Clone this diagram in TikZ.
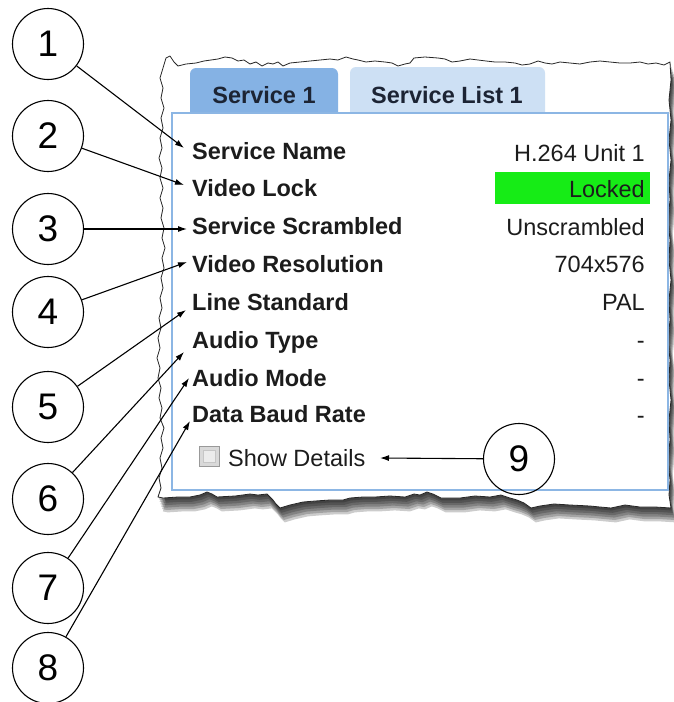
\documentclass[tikz,border=0pt]{standalone}
\usepackage{fontspec}
\setmainfont{Liberation Sans}
\usetikzlibrary{arrows.meta}
\definecolor{tabA}{RGB}{133,178,228}
\definecolor{tabB}{RGB}{205,224,244}
\definecolor{panelb}{RGB}{140,182,228}
\definecolor{lockg}{RGB}{22,236,22}
\definecolor{txt}{RGB}{28,28,28}
\definecolor{tabtxt}{RGB}{28,36,52}
\begin{document}
\begin{tikzpicture}[x=1pt,y=-1pt,
  callout/.style={circle, draw, line width=1.1pt, minimum size=71pt, inner sep=0pt, font=\fontsize{37}{40}\selectfont},
  lbl/.style={anchor=base west, inner sep=0pt, font=\fontsize{23.5}{28}\selectfont\bfseries, text=txt},
  val/.style={anchor=base east, inner sep=0pt, font=\fontsize{23.5}{28}\selectfont, text=txt},
  tabtext/.style={inner sep=0pt, font=\fontsize{23.5}{28}\selectfont\bfseries, text=tabtxt},
  pointer/.style={-{Latex[length=9pt,width=6pt]}, line width=1.1pt},
]
\useasboundingbox (0,0) rectangle (674,702);
\clip (0,0) rectangle (674,702);
\fill[white] (0,0) rectangle (674,702);

\def\paperpath{(158,497) -- (161,488) -- (159,478) -- (162,468) -- (160,458) -- (163,448) -- (161,438) -- (164,428) -- (160,418) -- (162,408) -- (159,398) -- (161,388) -- (158,378) -- (160,368) -- (157,358) -- (160,348) -- (158,338) -- (161,328) -- (159,318) -- (162,308) -- (160,298) -- (163,288) -- (161,278) -- (164,268) -- (162,258) -- (165,248) -- (162,238) -- (164,228) -- (161,218) -- (163,208) -- (160,198) -- (163,188) -- (160,178) -- (162,168) -- (159,158) -- (162,148) -- (160,138) -- (163,128) -- (161,118) -- (164,108) -- (161,98) -- (163,88) -- (160,78) -- (163,68)
 -- (166,58) -- (170,56) -- (174,62) -- (178,66) -- (186,64) -- (196,63) -- (204,61) -- (211,60) -- (218,59) -- (225,57) -- (232,58) -- (238,61) -- (244,60) -- (250,64) -- (256,62) -- (262,66) -- (268,63) -- (273,64) -- (278,62) -- (283,66) -- (290,63) -- (300,62) -- (310,61) -- (320,60) -- (330,59) -- (338,60) -- (346,57) -- (353,59) -- (358,60) -- (366,62) -- (375,61) -- (385,62) -- (392,63) -- (398,66) -- (405,64) -- (410,63) -- (414,58) -- (425,57) -- (438,58) -- (445,59) -- (452,62) -- (460,61) -- (470,59) -- (478,60) -- (486,61) -- (495,62) -- (505,62) -- (515,63) -- (522,65) -- (530,64) -- (538,61) -- (545,63) -- (552,64) -- (560,62) -- (570,63) -- (580,64) -- (590,62) -- (600,61) -- (610,62) -- (620,63) -- (630,63) -- (640,62) -- (648,64) -- (656,63) -- (664,65) -- (670,62)
 -- (671,80) -- (669,100) -- (671,120) -- (669,140) -- (671,160) -- (669,180) -- (670,200) -- (668,220) -- (670,240) -- (669,260) -- (671,280) -- (669,300) -- (670,320) -- (668,340) -- (670,360) -- (669,380) -- (671,400) -- (669,420) -- (670,440) -- (668,460) -- (670,480) -- (669,495) -- (671,508)
 -- (655,507) -- (640,507) -- (625,505) -- (611,508) -- (600,507) -- (590,506) -- (570,505) -- (554,504) -- (540,506) -- (531,508) -- (524,503) -- (517,500) -- (510,498) -- (501,495) -- (490,497) -- (475,496) -- (460,498) -- (441,498) -- (433,494) -- (427,492) -- (420,495) -- (414,494) -- (405,497) -- (390,496) -- (375,497) -- (363,497) -- (350,498) -- (343,500) -- (330,500) -- (315,501) -- (303,502) -- (290,505) -- (280,508) -- (276,504) -- (273,500) -- (267,494) -- (258,495) -- (250,494) -- (235,496) -- (217,497) -- (212,494) -- (207,492) -- (200,495) -- (190,497) -- (178,497) -- (163,498) -- cycle}

% shadow
\foreach \k in {1,...,6}{
  \fill[black, opacity=0.2] [shift={(0.8*\k,2.4*\k)}] \paperpath;
}
% paper
\fill[white] \paperpath;
\draw[black!85, line width=0.8pt, line join=round] \paperpath;

% panel
\draw[panelb, line width=2pt] (172,113) rectangle (668,490);
\fill[tabA] (190,113) [rounded corners=6pt] -- (190,68) -- (338,68) [sharp corners] -- (338,113) -- cycle;
\fill[tabB] (350,113) [rounded corners=6pt] -- (350,67) -- (545,67) [sharp corners] -- (545,113) -- cycle;
\draw[panelb, line width=2pt] (172,113) -- (668,113);
\node[tabtext] (tab1) at (264,95) {Service 1};
\node[tabtext] (tab2) at (447,95) {Service List 1};

% green lock highlight
\fill[lockg] (495,172) rectangle (650,204);

% labels
\node[lbl] (l1) at (192,159) {Service Name};
\node[lbl] (l2) at (192,196) {Video Lock};
\node[lbl] (l3) at (192,234) {Service Scrambled};
\node[lbl] (l4) at (192,272) {Video Resolution};
\node[lbl] (l5) at (192,310) {Line Standard};
\node[lbl] (l6) at (192,348) {Audio Type};
\node[lbl] (l7) at (192,386) {Audio Mode};
\node[lbl] (l8) at (192,422) {Data Baud Rate};

% values
\node[val] (v1) at (645,161) {H.264 Unit 1};
\node[val] (v2) at (645,197) {Locked};
\node[val] (v3) at (645,235) {Unscrambled};
\node[val] (v4) at (645,272) {704x576};
\node[val] (v5) at (645,310) {PAL};
\node[val] (v6) at (645,348) {-};
\node[val] (v7) at (645,386) {-};
\node[val] (v8) at (645,423) {-};

% checkbox
\node[draw=gray!80, fill=gray!30, line width=1pt, minimum size=20pt, inner sep=0pt] (cb) at (209,456) {};
\node[draw=gray!45, fill=gray!15, line width=0.6pt, minimum size=12pt, inner sep=0pt] (cbi) at (cb) {};
\node[val, anchor=base west] (sd) at (228,466) {Show Details};

% callouts
\node[callout] (c1) at (48,44) {1};
\node[callout] (c2) at (48,136) {2};
\node[callout] (c3) at (48,229) {3};
\node[callout] (c4) at (48,312) {4};
\node[callout] (c5) at (48,407) {5};
\node[callout] (c6) at (48,499) {6};
\node[callout] (c7) at (48,588) {7};
\node[callout] (c8) at (48,668) {8};
\node[callout] (c9) at (519,459) {9};

% targets
\coordinate (t1) at (184,148);
\coordinate (t2) at (184,185);
\coordinate (t3) at (187,229);
\coordinate (t4) at (187,262);
\coordinate (t5) at (186,310);
\coordinate (t6) at (184,352);
\coordinate (t7) at (189,378);
\coordinate (t8) at (190,421);
\coordinate (t9) at (380,458);

\foreach \i in {1,...,9}{
  \draw[pointer] (c\i) -- (t\i);
}
\end{tikzpicture}
\end{document}
